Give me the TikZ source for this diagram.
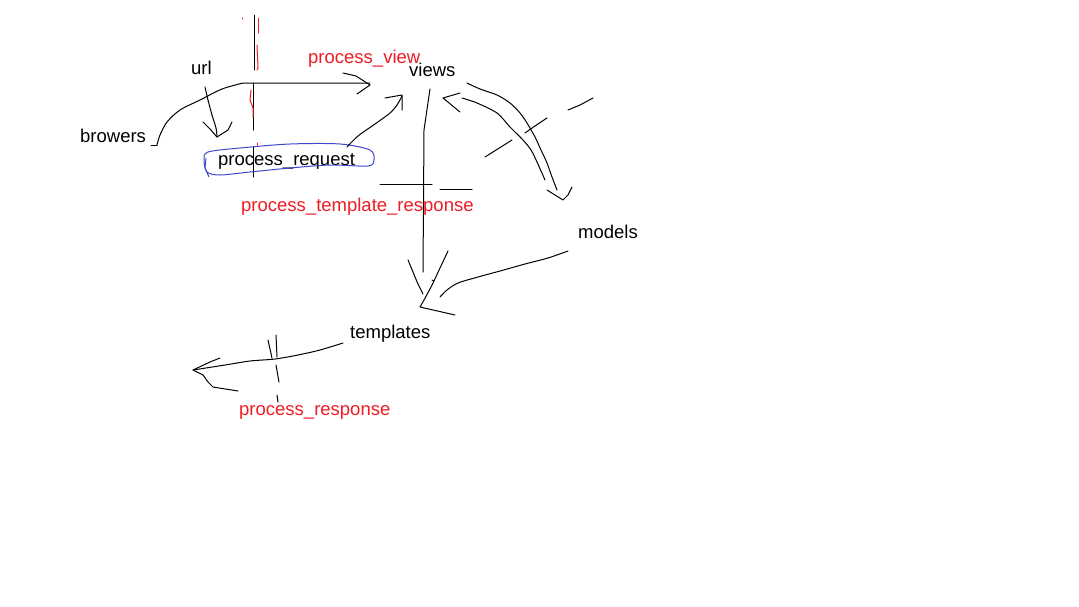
\documentclass[tikz,border=0pt]{standalone}
\usepackage{fontspec}
\setmainfont{Liberation Sans}
\definecolor{sketchred}{HTML}{EE1C24}
\definecolor{sketchblue}{HTML}{3F48CC}
\begin{document}
\begin{tikzpicture}[x=1pt,y=-1pt,
  lbl/.style={anchor=base west, inner sep=0pt, font=\fontsize{18.5}{20}\selectfont},
  redlbl/.style={lbl, text=sketchred},
  ink/.style={draw=black, line width=1pt, line join=round, line cap=round},
  redink/.style={draw=sketchred, line width=1pt, line cap=round},
  blueink/.style={draw=sketchblue, line width=1pt, line join=round}]
\useasboundingbox[fill=white] (0,0) rectangle (1079,606);

% labels
\node[lbl] (url) at (191,74) {url};
\node[lbl] (browers) at (80,142) {browers};
\node[redlbl] (pview) at (308,63) {process\_view};
\node[lbl] (views) at (409,76) {views};
\node[lbl] (preq) at (218,165) {process\_request};
\node[redlbl] (ptr) at (241,211) {process\_template\_response};
\node[lbl] (models) at (578,238) {models};
\node[lbl] (templates) at (350,338) {templates};
\node[redlbl] (presp) at (239,415) {process\_response};

% vertical barrier marks (black + red)
\draw[ink] (254,15) -- (254,70);
\draw[redink] (258,18) -- (258,33);
\draw[redink] (257,45) -- (258,68) -- (257,70);
\draw[redink] (242,18) -- (242,19);
\draw[ink] (253,83) -- (253,130);
\draw[redink] (251,90) -- (250,100) -- (253,108) -- (253,117);
\draw[redink] (257,143) -- (257,145);
\draw[ink] (253,147) -- (253,177);

% browers -> views (process_view)
\draw[ink] (151,145) -- (157,145);
\draw[ink] plot[smooth] coordinates {(157,145) (160,135) (167,122) (180,110) (200,100) (222,89) (243,83)} -- (370,83);
\draw[ink] (343,73) -- (356,76) -- (370,85) -- (357,94);

% url -> process_request
\draw[ink] plot[smooth] coordinates {(205,87) (208,100) (212,115) (216,128) (217,137)};
\draw[ink] (203,122) -- (210,129) -- (217,137) -- (228,130) -- (232,122);

% blue outline round process_request
\draw[blueink] plot[smooth cycle] coordinates {(208,152) (240,148) (290,144) (340,144) (370,150) (374,160) (368,166) (330,165) (290,168) (250,172) (220,175) (207,172) (204,160)};
\draw[blueink] (209,177) -- (205,168) -- (206,158);

% process_request -> views
\draw[ink] plot[smooth] coordinates {(347,147) (358,136) (375,124) (390,113) (397,105) (402,96)};
\draw[ink] (385,98) -- (402,95) -- (402,110);

% views -> templates
\draw[ink] (430,89) -- (424,130) -- (423,272);
\draw[ink] plot[smooth] coordinates {(408,260) (413,272) (418,284) (423,294)};
\draw[ink] plot[smooth] coordinates {(448,251) (440,268) (432,285) (424,300) (420,307)} -- (455,315);
\draw[ink] (432,280) -- (434,281);

% process_template_response marks
\draw[ink] (380,184) -- (432,184);
\draw[ink] (440,189) -- (472,189);

% models -> templates
\draw[ink] plot[smooth] coordinates {(568,251) (548,258) (525,264) (500,271) (478,277) (458,283) (447,290) (440,297)};

% views <-> models double arrow
\draw[ink] plot[smooth] coordinates {(467,83) (480,89) (497,95) (510,103) (520,113) (527,123) (535,137) (541,150) (547,163) (552,177) (557,190)};
\draw[ink] plot[smooth] coordinates {(462,98) (477,103) (497,113) (510,127) (523,140) (531,150) (537,162) (545,180)};
\draw[ink] (460,93) -- (443,98) -- (460,112);
\draw[ink] (547,190) -- (563,200) -- (568,195) -- (572,187);
\draw[ink] (485,157) -- (512,140);
\draw[ink] (525,133) -- (535,126) -- (547,118);
\draw[ink] (568,110) -- (580,105) -- (593,98);

% templates -> browers (process_response)
\draw[ink] plot[smooth] coordinates {(343,343) (320,350) (298,355) (275,359) (250,361) (225,365) (193,370)};
\draw[ink] (220,358) -- (210,362) -- (193,370) -- (203,375) -- (208,382) -- (213,387) -- (238,391);
\draw[ink] (268,340) -- (272,358);
\draw[ink] (276,335) -- (277,357);
\draw[ink] (276,365) -- (279,382);
\draw[ink] (277,395) -- (278,402);
\end{tikzpicture}
\end{document}
